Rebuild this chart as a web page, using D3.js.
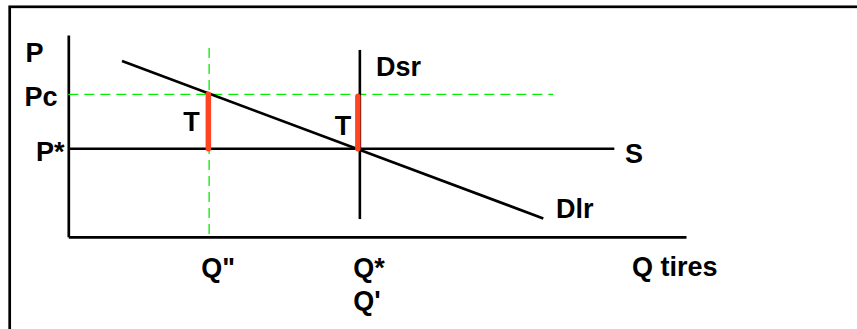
<!DOCTYPE html>
<html>
<head>
<meta charset="utf-8">
<script src="https://cdn.jsdelivr.net/npm/d3@7"></script>
<style>
  html, body { margin: 0; padding: 0; background: #ffffff; }
  svg { display: block; }
  text { font-family: "Liberation Sans", Arial, sans-serif; font-weight: bold; font-size: 27px; fill: #000; }
</style>
</head>
<body>
<svg id="chart" width="857" height="329"></svg>
<script>
// ---- data (economic units, 0..10 on both axes) ----
const priceLabels = ["P", "Pc", "P*"];
const priceValues = [9.1, 7.06, 4.36];
const quantityLabels = ['Q"', "Q*", "Q'"];
const quantityValues = [2.28, 4.72, 4.72];
const axisTitleX = "Q tires";

const demandLR = [ { q: 0.87, p: 8.71 }, { q: 7.69, p: 0.91 } ];   // Dlr
const demandSR = [ { q: 4.72, p: 9.26 }, { q: 4.72, p: 0.88 } ];   // Dsr (vertical)
const supply   = [ { q: 0.0,  p: 4.36 }, { q: 8.84, p: 4.36 } ];   // S (horizontal)
const pcGuide  = [ { q: 0.0,  p: 7.06 }, { q: 7.85, p: 7.06 } ];   // green dashed horizontal at Pc
const qGuide   = [ { q: 2.28, p: 9.36 }, { q: 2.28, p: 0.0 } ];    // green dashed vertical at Q"
const taxBars  = [
  { q: 2.28, pTop: 7.06, pBottom: 4.36 },
  { q: 4.72, pTop: 6.95, pBottom: 4.36 }
];
const curveLabels = ["Dsr", "S", "Dlr"];

// ---- scales ----
const svg = d3.select("#chart");
const x = d3.scaleLinear().domain([0, 10]).range([68.3, 686]);
const y = d3.scaleLinear().domain([0, 10]).range([236.8, 35]);
const line = d3.line().x(d => x(d.q)).y(d => y(d.p));

// outer frame (only top and left edges visible in the view)
svg.append("rect")
  .attr("x", 9.7).attr("y", 6.8).attr("width", 1000).attr("height", 1000)
  .attr("fill", "none").attr("stroke", "#000").attr("stroke-width", 2.7);

// axes (domain lines only)
const yAxis = d3.axisLeft(y).tickValues([]).tickSizeOuter(0);
const xAxis = d3.axisBottom(x).tickValues([]).tickSizeOuter(0);
svg.append("g").attr("transform", `translate(${x(0)},0)`).call(yAxis)
  .select(".domain").attr("stroke", "#000").attr("stroke-width", 2.7);
svg.append("g").attr("transform", `translate(0,${y(0)})`).call(xAxis)
  .select(".domain").attr("stroke", "#000").attr("stroke-width", 2.7);

// green dashed guides
[pcGuide, qGuide].forEach(g => {
  svg.append("path").attr("d", line(g))
    .attr("fill", "none").attr("stroke", "#00ee00").attr("stroke-width", 1.3)
    .attr("stroke-dasharray", "10,6");
});

// supply and demand lines
[supply, demandLR, demandSR].forEach(g => {
  svg.append("path").attr("d", line(g))
    .attr("fill", "none").attr("stroke", "#000").attr("stroke-width", 2.6);
});

// tax wedges (red bars)
svg.selectAll(".tax").data(taxBars).enter().append("line")
  .attr("class", "tax")
  .attr("x1", (d, i) => x(d.q) - (i === 0 ? 0.8 : 2)).attr("x2", (d, i) => x(d.q) - (i === 0 ? 0.8 : 2))
  .attr("y1", d => y(d.pTop)).attr("y2", d => y(d.pBottom))
  .attr("stroke", "#ff4422").attr("stroke-width", 5.5).attr("stroke-linecap", "round");

// T labels
svg.selectAll(".tlab").data(taxBars).enter().append("text")
  .attr("class", "tlab")
  .attr("x", (d, i) => x(d.q) - (i === 0 ? 26 : 25))
  .attr("y", (d, i) => i === 0 ? 130.5 : 135)
  .text("T");

// price labels (left of y axis)
const pOffsets = [ { x: 25.5, y: 62 }, { x: 24.5, y: 106 }, { x: 36, y: 161 } ];
svg.selectAll(".plab").data(priceLabels).enter().append("text")
  .attr("class", "plab")
  .attr("x", (d, i) => pOffsets[i].x)
  .attr("y", (d, i) => pOffsets[i].y)
  .text(d => d);

// quantity labels (below x axis)
const qOffsets = [ { dx: -8, y: 276.5 }, { dx: -6.5, y: 276.5 }, { dx: -6.5, y: 310 } ];
svg.selectAll(".qlab").data(quantityLabels).enter().append("text")
  .attr("class", "qlab")
  .attr("x", (d, i) => x(quantityValues[i]) + qOffsets[i].dx)
  .attr("y", (d, i) => qOffsets[i].y)
  .text(d => d);

svg.append("text").attr("x", 632).attr("y", 276).text(axisTitleX);

// curve labels
const curvePos = [ { x: 376, y: 76 }, { x: 625, y: 163 }, { x: 556, y: 217.5 } ];
svg.selectAll(".clab").data(curveLabels).enter().append("text")
  .attr("class", "clab")
  .attr("x", (d, i) => curvePos[i].x)
  .attr("y", (d, i) => curvePos[i].y)
  .text(d => d);
</script>
</body>
</html>
